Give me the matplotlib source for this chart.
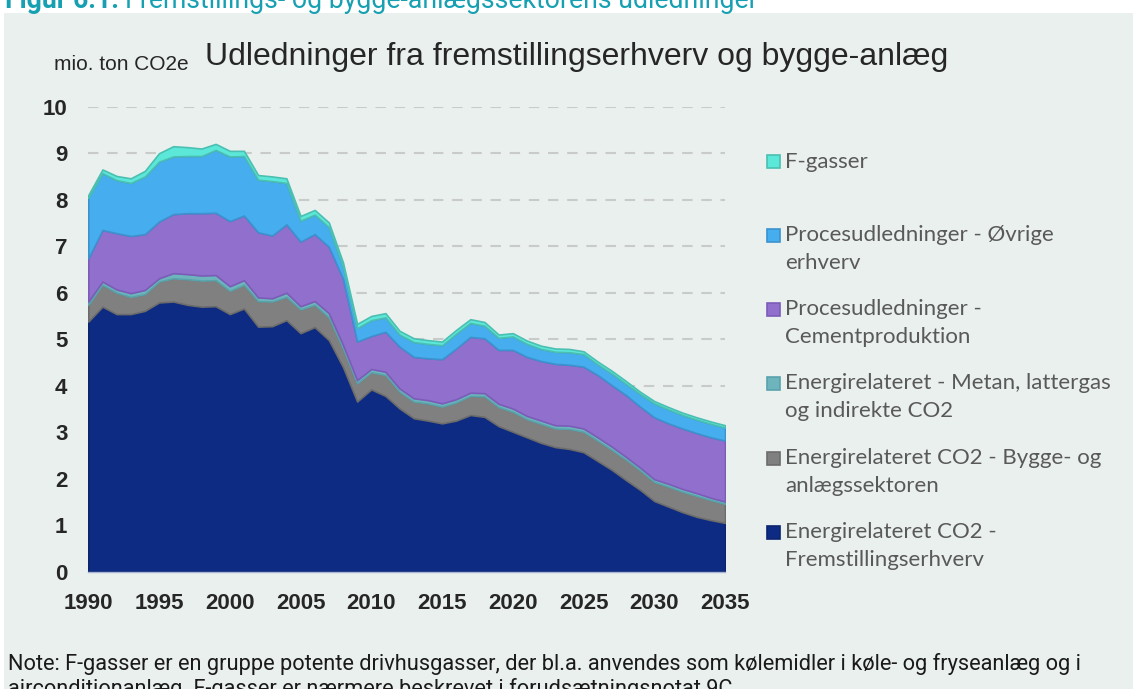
import matplotlib
matplotlib.use("Agg")
import matplotlib.pyplot as plt
from matplotlib.patches import Rectangle
import numpy as np

# ---------------- data ----------------
years = list(range(1990, 2036))

fremstilling = [5.38, 5.70, 5.54, 5.54, 5.61, 5.79, 5.81, 5.74, 5.70, 5.71,
                5.54, 5.66, 5.27, 5.28, 5.41, 5.13, 5.26, 4.98, 4.40, 3.66,
                3.92, 3.78, 3.51, 3.30, 3.25, 3.19, 3.25, 3.37, 3.33, 3.13,
                3.01, 2.89, 2.77, 2.68, 2.64, 2.57, 2.38, 2.19, 1.97, 1.76,
                1.52, 1.40, 1.28, 1.18, 1.11, 1.05]
bygge = [0.36, 0.47, 0.46, 0.37, 0.36, 0.45, 0.50, 0.55, 0.56, 0.56,
         0.50, 0.51, 0.55, 0.53, 0.50, 0.51, 0.48, 0.49, 0.40, 0.39,
         0.37, 0.45, 0.36, 0.36, 0.37, 0.36, 0.39, 0.41, 0.44, 0.41,
         0.43, 0.39, 0.41, 0.40, 0.43, 0.44, 0.44, 0.43, 0.44, 0.42,
         0.41, 0.43, 0.44, 0.45, 0.43, 0.41]
metan = [0.07, 0.07, 0.07, 0.08, 0.09, 0.07, 0.11, 0.11, 0.11, 0.11,
         0.10, 0.10, 0.08, 0.07, 0.09, 0.07, 0.08, 0.09, 0.08, 0.07,
         0.07, 0.07, 0.07, 0.07, 0.07, 0.07, 0.07, 0.07, 0.07, 0.07,
         0.07, 0.07, 0.07, 0.07, 0.07, 0.07, 0.07, 0.07, 0.06, 0.06,
         0.06, 0.06, 0.06, 0.06, 0.05, 0.05]
cement = [0.93, 1.11, 1.21, 1.23, 1.20, 1.22, 1.27, 1.31, 1.34, 1.34,
          1.40, 1.39, 1.40, 1.35, 1.47, 1.39, 1.44, 1.43, 1.42, 0.83,
          0.71, 0.86, 0.90, 0.89, 0.90, 0.95, 1.09, 1.20, 1.18, 1.16,
          1.26, 1.27, 1.28, 1.32, 1.31, 1.33, 1.34, 1.32, 1.33, 1.31,
          1.33, 1.30, 1.30, 1.29, 1.30, 1.31]
ovrige = [1.30, 1.22, 1.14, 1.14, 1.24, 1.29, 1.24, 1.23, 1.23, 1.35,
          1.39, 1.28, 1.13, 1.17, 0.89, 0.45, 0.42, 0.42, 0.26, 0.29,
          0.34, 0.31, 0.26, 0.32, 0.31, 0.30, 0.32, 0.30, 0.27, 0.26,
          0.29, 0.28, 0.26, 0.26, 0.27, 0.27, 0.23, 0.25, 0.24, 0.27,
          0.30, 0.30, 0.29, 0.29, 0.29, 0.28]
fgasser = [0.06, 0.08, 0.09, 0.10, 0.12, 0.18, 0.22, 0.19, 0.16, 0.13,
           0.12, 0.11, 0.10, 0.10, 0.10, 0.10, 0.10, 0.10, 0.09, 0.09,
           0.09, 0.09, 0.08, 0.08, 0.08, 0.08, 0.08, 0.08, 0.08, 0.07,
           0.07, 0.07, 0.07, 0.07, 0.07, 0.06, 0.06, 0.06, 0.06, 0.05,
           0.05, 0.05, 0.05, 0.05, 0.05, 0.05]

# legend labels, bottom-to-top stacking order (lines of each label)
series_labels = [
    ["Energirelateret CO2 -", "Fremstillingserhverv"],
    ["Energirelateret CO2 - Bygge- og", "anlægssektoren"],
    ["Energirelateret - Metan, lattergas", "og indirekte CO2"],
    ["Procesudledninger -", "Cementproduktion"],
    ["Procesudledninger - Øvrige", "erhverv"],
    ["F-gasser"],
]
x_ticks = [1990, 1995, 2000, 2005, 2010, 2015, 2020, 2025, 2030, 2035]
y_ticks = list(range(0, 11))

heading_bold = "Figur 6.1:"
heading_rest = "Fremstillings- og bygge-anlægssektorens udledninger"
chart_title = "Udledninger fra fremstillingserhverv og bygge-anlæg"
unit_label = "mio. ton CO2e"
note_lines = [
    "Note: F-gasser er en gruppe potente drivhusgasser, der bl.a. anvendes som kølemidler i køle- og fryseanlæg og i",
    "airconditionanlæg. F-gasser er nærmere beskrevet i forudsætningsnotat 9C.",
]

# ---------------- style ----------------
fills = ["#0D2B83", "#808080", "#6DB4BD", "#9070CC", "#46AEEE", "#5CE8D8"]
edges = ["#0B2470", "#6C6C6C", "#5AA3AB", "#7C5CB8", "#3B92CE", "#4BBFB1"]
panel_col = "#EAF0EE"
txt_dark = "#262626"

W, H = 1133, 689
fig = plt.figure(figsize=(W / 100, H / 100), dpi=100)
fig.patch.set_facecolor("white")
fig.patches.append(Rectangle((4 / W, 0), 1 - 4 / W, 1 - 13 / H,
                             transform=fig.transFigure, facecolor=panel_col,
                             edgecolor="none", zorder=-10))

def fx(px):
    return px / W

def fy(py):
    return 1 - py / H

ax = fig.add_axes([fx(88.3), fy(571.7), fx(725) - fx(88.3), fy(106.7) - fy(571.7)])
ax.set_facecolor("none")

polys = ax.stackplot(years, fremstilling, bygge, metan, cement, ovrige, fgasser,
                     colors=fills, zorder=3)
for p, ec in zip(polys, edges):
    p.set_edgecolor(ec)
    p.set_linewidth(1.2)

ax.set_xlim(1990, 2035)
ax.set_ylim(0, 10)
ax.set_xticks(x_ticks)
ax.set_yticks(y_ticks)
ax.tick_params(axis="both", length=0, labelsize=16, labelcolor=txt_dark)
ax.tick_params(axis="y", pad=15)
ax.tick_params(axis="x", pad=15)
for lab in ax.get_xticklabels() + ax.get_yticklabels():
    lab.set_fontfamily("Liberation Sans")
    lab.set_fontweight("bold")

for s in ["top", "right", "left"]:
    ax.spines[s].set_visible(False)
ax.spines["bottom"].set_color("#A9B3D3")
ax.spines["bottom"].set_linewidth(1.0)
ax.spines["bottom"].set_zorder(4)

ax.set_axisbelow(True)
ax.yaxis.grid(True, color="#C9CACA", linewidth=1.5, dashes=(5, 4.2), zorder=0)
ax.xaxis.grid(False)

# ---------------- texts ----------------
fig.canvas.draw()
renderer = fig.canvas.get_renderer()
t1 = fig.text(fx(5), fy(8), heading_bold, family="Roboto", weight="bold",
              fontsize=19.2, color="#16A0B2", va="baseline", ha="left")
bb = t1.get_window_extent(renderer)
fig.text((bb.x1 + 6) / W, fy(8), heading_rest, family="Roboto",
         fontsize=19.2, color="#16A0B2", va="baseline", ha="left")

fig.text(fx(205), fy(65), chart_title, family="Liberation Sans", fontsize=23,
         color=txt_dark, va="baseline", ha="left")
fig.text(fx(54), fy(70), unit_label, family="Liberation Sans", fontsize=15,
         color=txt_dark, va="baseline", ha="left")

fig.text(fx(8), fy(670), note_lines[0], family="Roboto", fontsize=15.7,
         color="#1A1A1A", va="baseline", ha="left")
fig.text(fx(8), fy(695), note_lines[1], family="Roboto", fontsize=15.7,
         color="#1A1A1A", va="baseline", ha="left")

# ---------------- legend ----------------
leg_centers = [161.7, 235, 309, 383, 458, 532]  # top-to-bottom
order = list(range(len(series_labels)))[::-1]
for yc, i in zip(leg_centers, order):
    fig.patches.append(Rectangle((fx(767), fy(yc + 6.5)), 13 / W, 13 / H,
                                 transform=fig.transFigure, facecolor=fills[i],
                                 edgecolor=edges[i], linewidth=1.2, zorder=5))
    for k, line in enumerate(series_labels[i]):
        fig.text(fx(785), fy(yc + 28 * k), line, family="Lato", fontsize=16,
                 color="#595959", va="center", ha="left")

fig.savefig("out.png", dpi=100, facecolor="white")
